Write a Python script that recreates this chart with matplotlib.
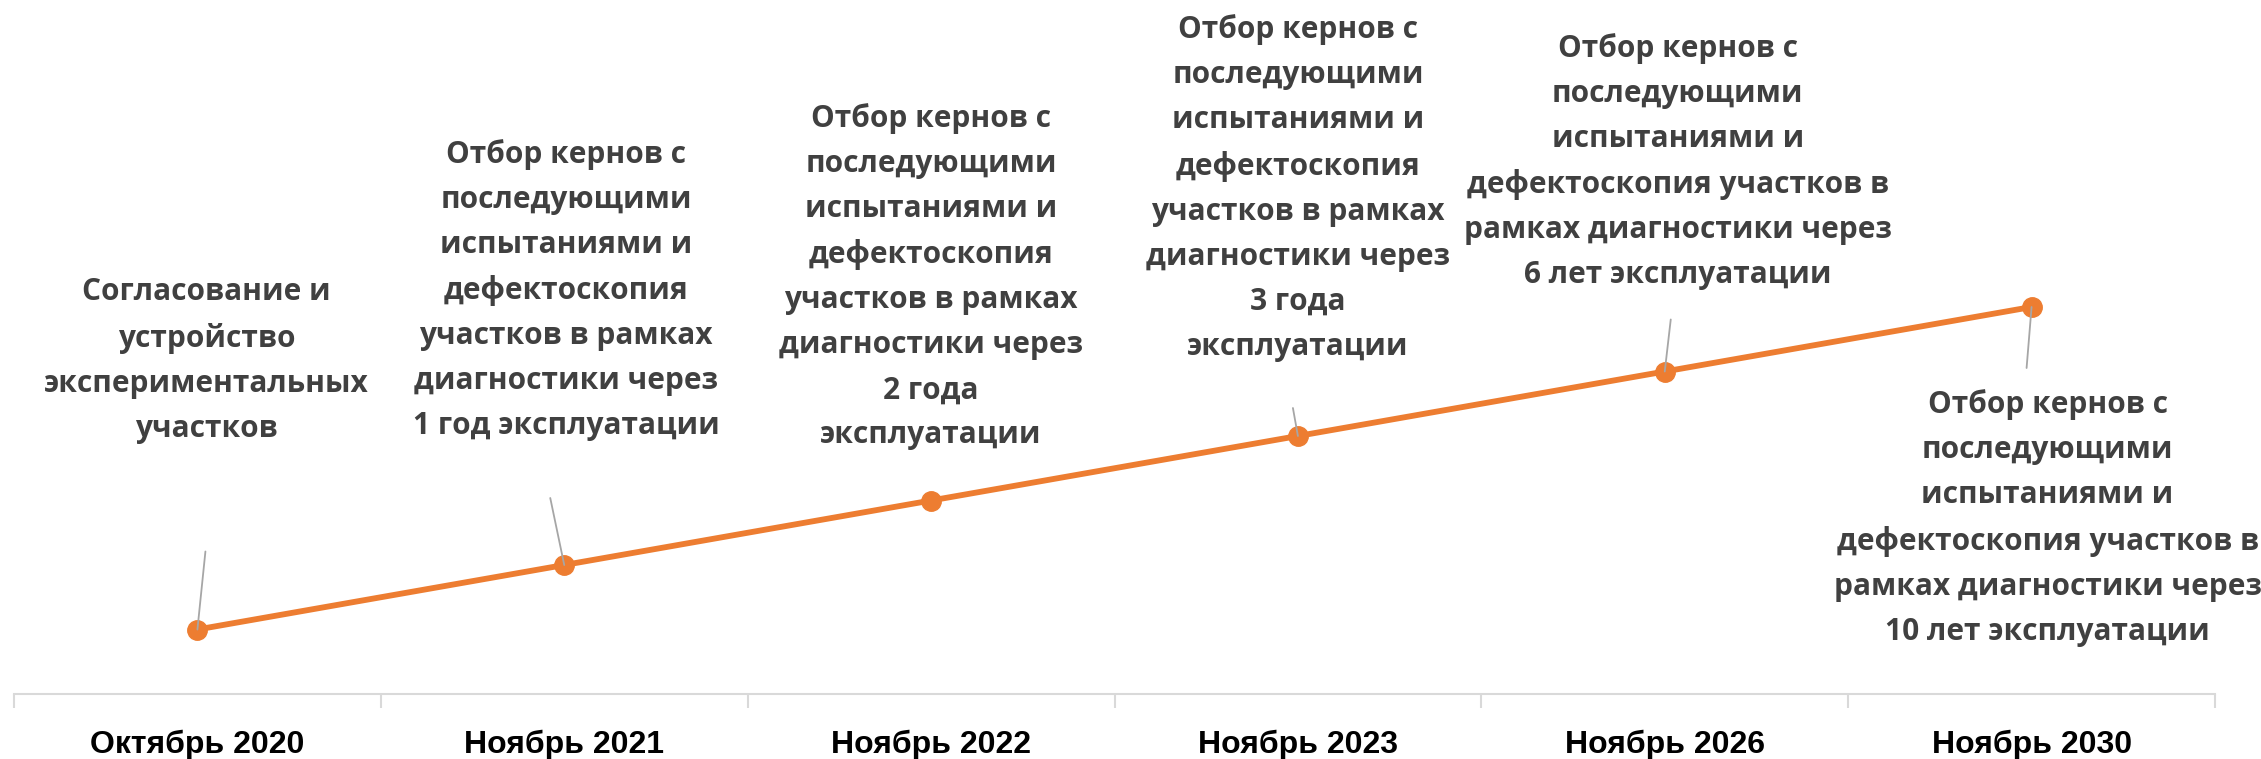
import numpy as np
import matplotlib.pyplot as plt
from matplotlib import font_manager

# data
dates = ["Октябрь 2020", "Ноябрь 2021", "Ноябрь 2022", "Ноябрь 2023", "Ноябрь 2026", "Ноябрь 2030"]
values = [1, 2, 3, 4, 5, 6]
notes = [
    "Согласование и\nустройство\nэкспериментальных\nучастков",
    "Отбор кернов с\nпоследующими\nиспытаниями и\nдефектоскопия\nучастков в рамках\nдиагностики через\n1 год эксплуатации",
    "Отбор кернов с\nпоследующими\nиспытаниями и\nдефектоскопия\nучастков в рамках\nдиагностики через\n2 года\nэксплуатации",
    "Отбор кернов с\nпоследующими\nиспытаниями и\nдефектоскопия\nучастков в рамках\nдиагностики через\n3 года\nэксплуатации",
    "Отбор кернов с\nпоследующими\nиспытаниями и\nдефектоскопия участков в\nрамках диагностики через\n6 лет эксплуатации",
    "Отбор кернов с\nпоследующими\nиспытаниями и\nдефектоскопия участков в\nрамках диагностики через\n10 лет эксплуатации",
]

# label placement (pixel offsets from the point)
text_off = [(9, 269), (2, 275), (0, 224), (0, 248), (13, 210), (16, -211)]
leader_off = [(8, 78), (-14, 67), None, (-5, 28), (6, 52), (-5, -61)]

names = {f.name for f in font_manager.fontManager.ttflist}
tick_font = "Liberation Sans Narrow" if "Liberation Sans Narrow" in names else "Liberation Sans"

fig = plt.figure(figsize=(22.61, 7.59), dpi=100)
ax = fig.add_axes([14 / 2261, 65 / 759, (2215 - 14) / 2261, 694 / 759])

x = np.arange(len(dates))
ax.plot(x, values, color="#ED7D31", lw=4.2, marker="o", ms=14, zorder=3)

for i, (v, txt) in enumerate(zip(values, notes)):
    if leader_off[i] is not None:
        ax.annotate("", xy=(i, v), xytext=leader_off[i], textcoords="offset pixels",
                    arrowprops=dict(arrowstyle="-", color="#A6A6A6", lw=1.3,
                                    shrinkA=0, shrinkB=0), zorder=4)
    ax.annotate(txt, xy=(i, v), xytext=text_off[i], textcoords="offset pixels",
                ha="center", va="center", fontsize=21.5, fontweight="bold",
                family="Open Sans", color="#404040", linespacing=1.65)

ax.set_xlim(-0.5, len(dates) - 0.5)
ax.set_ylim(0, 694 / 64.5)
ax.set_xticks(x)
ax.set_xticklabels(dates, fontsize=23, fontweight="bold", family=tick_font, color="black")
ax.set_xticks(np.arange(-0.5, len(dates)), minor=True)
ax.tick_params(axis="x", which="major", length=0, pad=26)
ax.tick_params(axis="x", which="minor", length=10, width=1.5, color="#D9D9D9")
ax.set_yticks([])
for s in ["top", "left", "right"]:
    ax.spines[s].set_visible(False)
ax.spines["bottom"].set_color("#D9D9D9")
ax.spines["bottom"].set_linewidth(1.5)

fig.savefig("out.png", dpi=100)
